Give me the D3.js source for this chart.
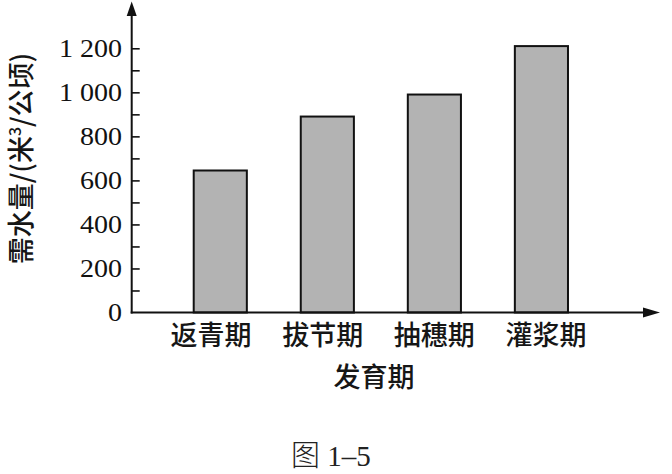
<!DOCTYPE html>
<html>
<head>
<meta charset="utf-8">
<script src="https://cdn.jsdelivr.net/npm/d3@7"></script>
<style>
  html, body { margin: 0; padding: 0; background: #fff; overflow: hidden; }
  svg { display: block; }
</style>
</head>
<body>
<script>
// ---- data ----
const categories = ["返青期", "拔节期", "抽穗期", "灌浆期"];
const values = [645, 890, 990, 1210];
const majorTicks = [0, 200, 400, 600, 800, 1000, 1200];
const tickLabels = ["0", "200", "400", "600", "800", "1 000", "1 200"];
const minorTicks = [100, 300, 500, 700, 900, 1100];
const yTitle = "需水量/(米";
const yTitleSup = "3";
const yTitleTail = "/公顷)";
const xTitle = "发育期";
const caption = ["图", " 1–5"];

const W = 672, H = 474;
const svg = d3.select("body").append("svg").attr("width", W).attr("height", H);

const x0 = 131.7, yBase = 312.5;
const y = d3.scaleLinear().domain([0, 1200]).range([yBase, 48.3]);
const x = d3.scaleBand().domain(categories)
  .range([x0, 630]).paddingInner(0.485).paddingOuter(0.57);
const xLab = d3.scalePoint().domain(categories).range([211, 546]);

const cjk = "'Noto Sans CJK SC', 'Noto Sans', sans-serif";
const serif = "'Liberation Serif', 'DejaVu Serif', serif";

// bars
svg.append("g").selectAll("rect").data(values).join("rect")
  .attr("x", (d, i) => x(categories[i]) + 1)
  .attr("width", x.bandwidth() - 2)
  .attr("y", d => y(d))
  .attr("height", d => yBase - y(d))
  .attr("fill", "#b3b3b3")
  .attr("stroke", "#111")
  .attr("stroke-width", 2);

// y axis with inward ticks
const yAxis = d3.axisRight(y)
  .tickValues(majorTicks.concat(minorTicks).filter(v => v > 0))
  .tickSize(8).tickFormat("");
const gy = svg.append("g").attr("transform", `translate(${x0},0)`).call(yAxis);
gy.select(".domain").remove();
gy.selectAll(".tick line").attr("stroke", "#111").attr("stroke-width", 1.6);

// axis lines + arrows
svg.append("line").attr("x1", x0).attr("x2", x0).attr("y1", yBase + 1).attr("y2", 12)
  .attr("stroke", "#111").attr("stroke-width", 2);
svg.append("path").attr("d", `M${x0},1.5 L${x0 - 5},16 L${x0 + 5},16 Z`).attr("fill", "#111");
svg.append("line").attr("x1", x0 - 1).attr("x2", 648).attr("y1", yBase).attr("y2", yBase)
  .attr("stroke", "#111").attr("stroke-width", 2);
svg.append("path").attr("d", `M660,${yBase} L643,${yBase - 5} L643,${yBase + 5} Z`).attr("fill", "#111");

// tick labels
svg.append("g").selectAll("text").data(majorTicks).join("text")
  .attr("transform", d => `translate(122,${y(d)}) scale(1.1,1)`)
  .attr("dy", "0.34em")
  .attr("text-anchor", "end")
  .attr("font-family", serif).attr("font-size", 25.5).attr("fill", "#111")
  .text((d, i) => tickLabels[i]);

// category labels
svg.append("g").selectAll("text").data(categories).join("text")
  .attr("x", d => xLab(d)).attr("y", 345)
  .attr("text-anchor", "middle")
  .attr("font-family", cjk).attr("font-weight", 500).attr("font-size", 27).attr("fill", "#161616")
  .text(d => d);

// x title
svg.append("text").attr("x", 374).attr("y", 387).attr("text-anchor", "middle")
  .attr("font-family", cjk).attr("font-weight", 500).attr("font-size", 27).attr("fill", "#161616")
  .text(xTitle);

// y title
const yt = svg.append("text")
  .attr("transform", "translate(31,158.5) rotate(-90)")
  .attr("text-anchor", "middle")
  .attr("font-family", cjk).attr("font-weight", 500).attr("font-size", 27).attr("fill", "#161616");
yt.append("tspan").text(yTitle);
yt.append("tspan").attr("font-size", 16).attr("dy", -10).text(yTitleSup);
yt.append("tspan").attr("dy", 10).text(yTitleTail);

// caption
const cap = svg.append("text").attr("x", 291).attr("y", 466)
  .attr("font-size", 29).attr("fill", "#222");
cap.append("tspan").attr("font-family", cjk).attr("font-weight", 300).text(caption[0]);
cap.append("tspan").attr("font-family", serif).attr("xml:space", "preserve").text(caption[1]);
</script>
</body>
</html>
